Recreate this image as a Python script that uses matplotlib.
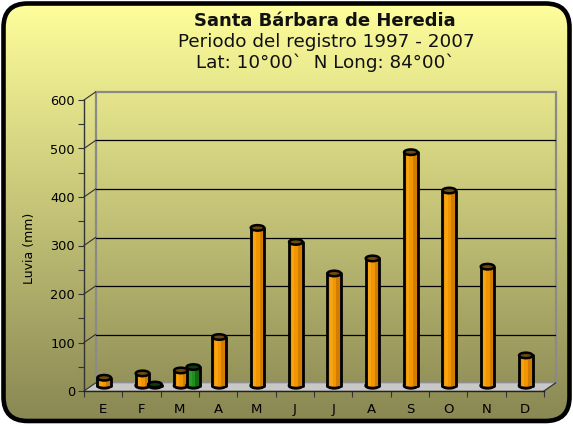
import numpy as np
import matplotlib
matplotlib.use("Agg")
import matplotlib.pyplot as plt
from matplotlib.patches import FancyBboxPatch, Rectangle, Ellipse, Polygon
from matplotlib.transforms import ScaledTranslation

# ---- data ----
months = ["E", "F", "M", "A", "M", "J", "J", "A", "S", "O", "N", "D"]
rain_main = [16, 25, 31, 100, 325, 296, 231, 262, 481, 402, 245, 62]
rain_second = [None, 2, 38, None, None, None, None, None, None, None, None, None]
yticks = [0, 100, 200, 300, 400, 500, 600]
title1 = "Santa Bárbara de Heredia"
title2 = "Periodo del registro 1997 - 2007"
title3 = "Lat: 10°00`  N Long: 84°00`"
ylabel = "Luvia (mm)"

W, H = 573, 426
fig = plt.figure(figsize=(W / 100, H / 100), dpi=100)
fig.patch.set_facecolor("white")

# ---- background rounded box with gradient ----
bg = fig.add_axes([0, 0, 1, 1])
bg.set_xlim(0, W)
bg.set_ylim(H, 0)
bg.axis("off")
top = np.array([255, 255, 156]) / 255
bot = np.array([136, 134, 82]) / 255
t = np.linspace(0, 1, 256)[:, None]
grad = (top[None, :] * (1 - t) + bot[None, :] * t)[:, None, :]
grad = np.repeat(grad, 2, axis=1)
box = FancyBboxPatch((3.5, 3.5), W - 7, H - 8.5,
                     boxstyle="round,pad=0,rounding_size=24",
                     facecolor="none", edgecolor="black", linewidth=3.3, zorder=5)
im = bg.imshow(grad, extent=(0, W, H, 0), aspect="auto", zorder=1)
bg.add_patch(box)
im.set_clip_path(box)

# ---- main axes (front plane) ----
ax = fig.add_axes([84 / W, (H - 391) / H, 460 / W, 291 / H])
ax.set_facecolor("none")
n = len(months)
ax.set_xlim(-0.5, n - 0.5)
ax.set_ylim(0, 600)
for s in ["top", "right"]:
    ax.spines[s].set_visible(False)
ax.spines["left"].set_color("#333333")
ax.spines["left"].set_linewidth(1.0)
ax.spines["bottom"].set_color("#222222")
ax.spines["bottom"].set_linewidth(1.0)

ax.set_yticks(yticks)
ax.set_yticks([50, 150, 250, 350, 450, 550], minor=True)
ax.tick_params(axis="y", which="both", direction="out", length=4, width=0.8,
               color="#333333", labelsize=9.3, pad=2.5)
ax.set_xticks(np.arange(-0.5, n, 1.0))
ax.set_xticklabels([])
ax.set_xticks(np.arange(n), minor=True)
ax.set_xticklabels(months, minor=True)
ax.tick_params(axis="x", which="major", direction="out", length=4, width=0.8, color="#333333")
ax.tick_params(axis="x", which="minor", length=0, labelsize=9.5, pad=8.5)

off = ax.transData + ScaledTranslation(0.115, 0.08, fig.dpi_scale_trans)

# back wall
wall = Rectangle((-0.5, 0), n, 600, transform=off, facecolor="none",
                 edgecolor="#8a8a8a", linewidth=1.6, zorder=1, clip_on=False)
ax.add_patch(wall)
for yv in yticks[1:-1]:
    ax.plot([-0.5, n - 0.5], [yv, yv], transform=off, color="black", lw=0.9, zorder=1,
            clip_on=False)

# floor
fig.canvas.draw()
p_fl = ax.transData.transform((-0.5, 0))
p_fr = ax.transData.transform((n - 0.5, 0))
p_bl = off.transform((-0.5, 0))
p_br = off.transform((n - 0.5, 0))
floor = Polygon([p_fl, p_fr, p_br, p_bl], closed=True, transform=None,
                facecolor="#c8c8c8", edgecolor="#9a9a9a", linewidth=0.6, zorder=2, clip_on=False)
ax.add_patch(floor)
ax.plot([p_fr[0], p_br[0]], [p_fr[1], p_br[1]], transform=None, color="#333333", lw=0.9,
        zorder=2, clip_on=False)
for yv in yticks:
    a = ax.transData.transform((-0.5, yv))
    b = off.transform((-0.5, yv))
    ax.plot([a[0], b[0]], [a[1], b[1]], transform=None, color="#333333", lw=0.8, zorder=2,
            clip_on=False)

# ---- cylinders ----
bar_t = ax.transData + ScaledTranslation(0.01, 0.055, fig.dpi_scale_trans)
px_per_x = 460 / n
px_per_y = 291 / 600
bw = 13.5 / px_per_x
eh = 5.5 / px_per_y


def cylinder(xc, v, base, light, dark, topc, z):
    kw = dict(transform=bar_t, zorder=z, clip_on=False)
    ax.add_patch(Ellipse((xc, 0), bw, eh, facecolor=dark, edgecolor="black", lw=2.0, **kw))
    ax.add_patch(Rectangle((xc - bw / 2, 0), bw, v, facecolor=base, edgecolor="none", lw=0, **kw))
    ax.add_patch(Rectangle((xc - bw * 0.30, 0), bw * 0.2, v, facecolor=light, edgecolor="none", **kw))
    ax.add_patch(Rectangle((xc + bw * 0.15, 0), bw * 0.35, v, facecolor=dark, edgecolor="none", **kw))
    ax.plot([xc - bw / 2, xc - bw / 2], [0, v], color="black", lw=2.0, solid_capstyle="round", **kw)
    ax.plot([xc + bw / 2, xc + bw / 2], [0, v], color="black", lw=2.0, solid_capstyle="round", **kw)
    ax.add_patch(Ellipse((xc, v), bw, eh, facecolor=topc, edgecolor="black", lw=1.8, **kw))


for i, v in enumerate(rain_main):
    cylinder(i, v, "#f29600", "#f6a414", "#d27c00", "#6b4a10", 6)
for i, v in enumerate(rain_second):
    if v is not None:
        cylinder(i + 12.5 / px_per_x, v, "#1f8f1f", "#2a9c2a", "#146a14", "#0d3d0d", 7)

# ---- texts ----
fig.text(325 / W, 1 - 21 / H, title1, ha="center", va="center", fontsize=13,
         fontweight="bold", color="#111111")
fig.text(326 / W, 1 - 42 / H, title2, ha="center", va="center", fontsize=13.2, color="#111111")
fig.text(325 / W, 1 - 63 / H, title3, ha="center", va="center", fontsize=13.2, color="#111111")
fig.text(29 / W, 1 - 248 / H, ylabel, ha="center", va="center", rotation=90, fontsize=9)

fig.savefig("out.png", dpi=100)
